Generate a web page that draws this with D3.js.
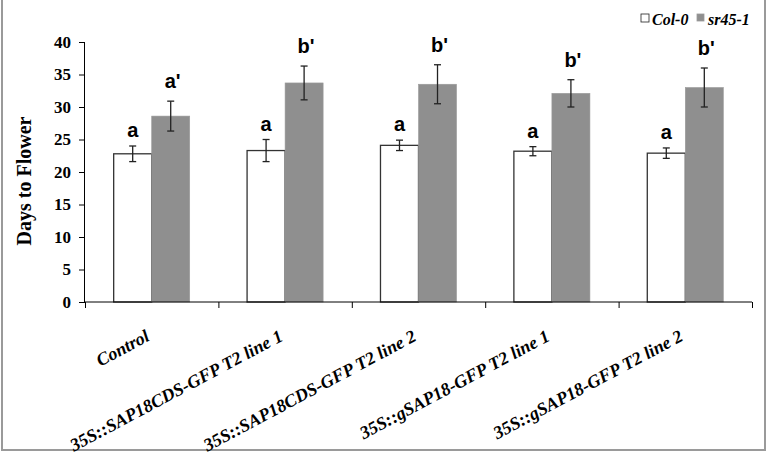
<!doctype html>
<html lang="en">
<head>
    <meta charset="UTF-8">
    <title>Days to Flower</title>
    <script type="text/javascript" src="https://cdn.jsdelivr.net/npm/d3@7"></script>
    <style type="text/css">
        body { margin: 0; background: #fff; }
        .axis path, .axis line { stroke: #000; stroke-width: 1; }
        .ytick text { font-family: "Liberation Serif", "Times New Roman", serif; font-weight: bold; font-size: 17px; }
    </style>
</head>
<body>
<script type="text/javascript">

    var categories = ["Control", "35S::SAP18CDS-GFP T2 line 1", "35S::SAP18CDS-GFP T2 line 2",
        "35S::gSAP18-GFP T2 line 1", "35S::gSAP18-GFP T2 line 2"];
    var seriesNames = ["Col-0", "sr45-1"];
    var col0 = [22.8, 23.3, 24.1, 23.2, 22.9];
    var col0Err = [1.2, 1.7, 0.8, 0.7, 0.8];
    var sr451 = [28.6, 33.7, 33.5, 32.1, 33.0];
    var sr451Err = [2.3, 2.6, 3.0, 2.1, 3.0];
    var col0Letters = ["a", "a", "a", "a", "a"];
    var sr451Letters = ["a'", "b'", "b'", "b'", "b'"];
    var yTicks = [0, 5, 10, 15, 20, 25, 30, 35, 40];

    var w = 767, h = 454;
    var plotL = 85, plotR = 752, plotT = 42, plotB = 302;
    var colors = ["#ffffff", "#8f8f8f"];

    var svg = d3.select("body").append("svg")
        .attr("width", w).attr("height", h);

    // frame
    svg.append("rect")
        .attr("x", 2).attr("y", -2).attr("width", 763).attr("height", 452)
        .attr("fill", "none").attr("stroke", "#9a9a9a").attr("stroke-width", 2);

    var yScale = d3.scaleLinear().domain([0, 40]).range([plotB, plotT]);
    var x0 = d3.scaleBand().domain(categories).range([plotL, plotR])
        .paddingInner(0.43).paddingOuter(0.215);
    var x1 = d3.scaleBand().domain(seriesNames).range([0, x0.bandwidth()]);
    var xEdges = d3.scaleLinear().domain([0, categories.length]).range([plotL, plotR]);

    // bars data
    var data = [];
    categories.forEach(function (c, i) {
        data.push({cat: c, s: 0, v: col0[i], e: col0Err[i], l: col0Letters[i]});
        data.push({cat: c, s: 1, v: sr451[i], e: sr451Err[i], l: sr451Letters[i]});
    });

    function bx(d) { return x0(d.cat) + x1(seriesNames[d.s]); }

    svg.selectAll("rect.bar")
        .data(data).enter()
        .append("rect")
        .attr("class", "bar")
        .attr("x", bx)
        .attr("y", function (d) { return yScale(d.v); })
        .attr("width", x1.bandwidth())
        .attr("height", function (d) { return yScale(0) - yScale(d.v); })
        .attr("fill", function (d) { return colors[d.s]; })
        .attr("stroke", function (d) { return d.s === 0 ? "#333" : "#9a9a9a"; })
        .attr("stroke-width", function (d) { return d.s === 0 ? 1.3 : 0.6; });

    // error bars
    var eb = svg.selectAll("g.err").data(data).enter().append("g")
        .attr("stroke", "#222").attr("stroke-width", 1.3);
    eb.append("line")
        .attr("x1", function (d) { return bx(d) + x1.bandwidth() / 2; })
        .attr("x2", function (d) { return bx(d) + x1.bandwidth() / 2; })
        .attr("y1", function (d) { return yScale(d.v + d.e); })
        .attr("y2", function (d) { return yScale(d.v - d.e); });
    [1, -1].forEach(function (k) {
        eb.append("line")
            .attr("x1", function (d) { return bx(d) + x1.bandwidth() / 2 - 3.5; })
            .attr("x2", function (d) { return bx(d) + x1.bandwidth() / 2 + 3.5; })
            .attr("y1", function (d) { return yScale(d.v + k * d.e); })
            .attr("y2", function (d) { return yScale(d.v + k * d.e); });
    });

    // significance letters
    svg.selectAll("text.sig").data(data).enter()
        .append("text")
        .attr("class", "sig")
        .attr("x", function (d) { return bx(d) + x1.bandwidth() / 2 + (d.s === 1 ? 2 : 0); })
        .attr("y", function (d) { return yScale(d.v + d.e) - (d.s === 1 ? 13 : 9); })
        .attr("text-anchor", "middle")
        .attr("font-family", "Liberation Sans, Arial, sans-serif")
        .attr("font-weight", "bold")
        .attr("font-size", "20px")
        .text(function (d) { return d.l; });

    // y axis
    var yAxis = d3.axisLeft(yScale).tickValues(yTicks).tickSize(6).tickPadding(8);
    svg.append("g")
        .attr("class", "axis ytick")
        .attr("transform", "translate(" + plotL + ",0)")
        .call(yAxis)
        .call(function (g) { g.select(".domain").attr("d", "M-0.5," + plotT + "V" + plotB); });

    // x axis
    var xAxis = d3.axisBottom(xEdges).tickValues(d3.range(categories.length + 1))
        .tickSize(6).tickFormat("");
    svg.append("g")
        .attr("class", "axis")
        .attr("transform", "translate(0," + plotB + ")")
        .call(xAxis)
        .call(function (g) { g.select(".domain").attr("d", "M" + plotL + ",0H" + plotR); });

    // x labels
    svg.selectAll("text.xlab").data(categories).enter()
        .append("text")
        .attr("class", "xlab")
        .attr("text-anchor", "end")
        .attr("transform", function (d) {
            return "translate(" + (x0(d) + x0.bandwidth() / 2 - 1) + ",340) rotate(-28)";
        })
        .attr("font-family", "Liberation Serif, Times New Roman, serif")
        .attr("font-weight", "bold")
        .attr("font-style", "italic")
        .attr("font-size", "18px")
        .text(function (d) { return d; });

    // y title
    svg.append("text")
        .attr("transform", "translate(31,181) rotate(-90)")
        .attr("text-anchor", "middle")
        .attr("font-family", "Liberation Serif, Times New Roman, serif")
        .attr("font-weight", "bold")
        .attr("font-size", "20px")
        .text("Days to Flower");

    // legend
    var legend = [{x: 641, size: 8}, {x: 697, size: 7}];
    legend.forEach(function (l, i) {
        svg.append("rect")
            .attr("x", l.x).attr("y", 14).attr("width", l.size).attr("height", l.size)
            .attr("fill", colors[i])
            .attr("stroke", i === 0 ? "#222" : "#9a9a9a").attr("stroke-width", 0.8);
        svg.append("text")
            .attr("x", l.x + 11).attr("y", 25)
            .attr("font-family", "Liberation Serif, Times New Roman, serif")
            .attr("font-weight", "bold")
            .attr("font-style", "italic")
            .attr("font-size", "16px")
            .text(seriesNames[i]);
    });

</script>
</body>
</html>
